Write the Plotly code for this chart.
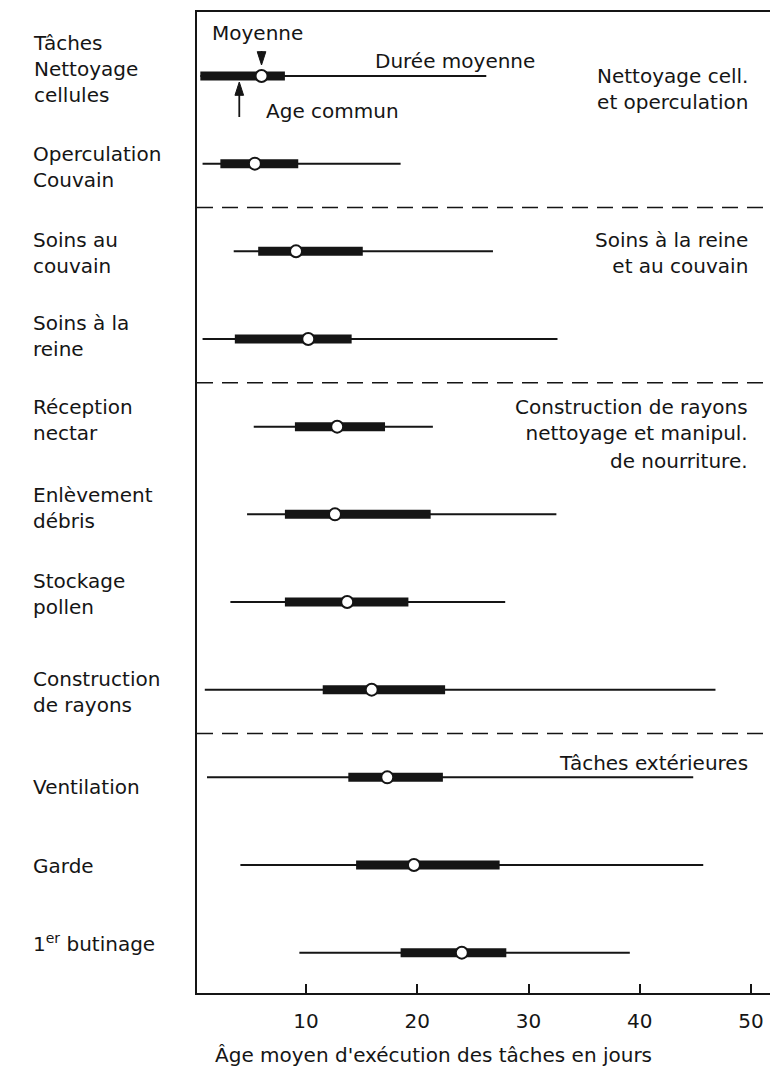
import plotly.graph_objects as go

# ---- data (ages in days) ----
taches = [
    "Tâches<br>Nettoyage<br>cellules",
    "Operculation<br>Couvain",
    "Soins au<br>couvain",
    "Soins à la<br>reine",
    "Réception<br>nectar",
    "Enlèvement<br>débris",
    "Stockage<br>pollen",
    "Construction<br>de rayons",
    "Ventilation",
    "Garde",
    "1<sup>er</sup> butinage",
]
age_min = [0.5, 0.7, 3.5, 0.7, 5.3, 4.7, 3.2, 0.9, 1.1, 4.1, 9.4]
age_q1 = [0.5, 2.3, 5.7, 3.6, 9.0, 8.1, 8.1, 11.5, 13.8, 14.5, 18.5]
age_moyen = [6.0, 5.4, 9.1, 10.2, 12.8, 12.6, 13.7, 15.9, 17.3, 19.7, 24.0]
age_q3 = [8.1, 9.3, 15.1, 14.1, 17.1, 21.2, 19.2, 22.5, 22.3, 27.4, 28.0]
age_max = [26.2, 18.5, 26.8, 32.6, 21.4, 32.5, 27.9, 46.8, 44.8, 45.7, 39.1]
age_commun_exemple = 4.0

groupes_debut = [0, 2, 4, 8]
groupes = [
    "Nettoyage cell.<br>et operculation",
    "Soins à la reine<br>et au couvain",
    "Construction de rayons<br>nettoyage et manipul.",
    "Tâches extérieures",
]
tick_vals = [10, 20, 30, 40, 50]
tick_text = ["10", "20", "30", "40", "50"]
titre_x = "Âge moyen d'exécution des tâches en jours"

# ---- style / layout ----
INK = "#151515"
FONT = "DejaVu Sans"
FS = 20
n = len(taches)
rows = list(range(n))
Y_RANGE = [10.46, -0.73]
PLOT_H = 1074 - 12 - 81
PX_PER_ROW = PLOT_H / (Y_RANGE[0] - Y_RANGE[1])

def seg(a, b):
    xs, ys = [], []
    for i in rows:
        xs += [a[i], b[i], None]
        ys += [i, i, None]
    return xs, ys

fig = go.Figure()
tx, ty = seg(age_min, age_max)
fig.add_trace(go.Scatter(x=tx, y=ty, mode="lines", line=dict(color=INK, width=2),
                         hoverinfo="skip", showlegend=False))
kx, ky = seg(age_q1, age_q3)
fig.add_trace(go.Scatter(x=kx, y=ky, mode="lines", line=dict(color=INK, width=9),
                         hoverinfo="skip", showlegend=False))
fig.add_trace(go.Scatter(x=age_moyen, y=rows, mode="markers",
                         marker=dict(size=12, color="white", line=dict(color=INK, width=2)),
                         showlegend=False))

# explanatory arrows on the first row (offsets in pixels from the row line)
def arrow(xv, px_from, px_to):
    fig.add_trace(go.Scatter(
        x=[xv, xv], y=[px_from / PX_PER_ROW, px_to / PX_PER_ROW], mode="lines+markers",
        line=dict(color=INK, width=1.8),
        marker=dict(symbol="arrow", angleref="previous", size=[0, 14], color=INK,
                    opacity=1, line=dict(color=INK, width=1)),
        hoverinfo="skip", showlegend=False))

arrow(age_moyen[0], -25, -11)          # "Moyenne"
arrow(age_commun_exemple, 41, 6)       # "Age commun"

# separators between groups
for g in groupes_debut[1:]:
    fig.add_shape(type="line", xref="paper", x0=0, x1=1, yref="y", y0=g - 0.5, y1=g - 0.5,
                  line=dict(color=INK, width=1.5, dash="16px,9px"))

annotations = []
txt = dict(family=FONT, size=FS, color=INK)
# task labels on the left
label_shift = [7.5, -3, -2, 3.5, 7, 6, 8, -2.5, -10, -1, 10]
for i, t in enumerate(taches):
    annotations.append(dict(text=t, xref="paper", x=-0.29, xanchor="left", align="left",
                            yref="y", y=i, yanchor="middle", yshift=label_shift[i],
                            showarrow=False, font=txt))

# group labels on the right
group_y = [0.922, 0.7543, 0.5846, 0.2345]
for g, yv in zip(groupes, group_y):
    annotations.append(dict(text=g, xref="paper", x=0.965, xanchor="right", align="right",
                            yref="paper", y=yv, yanchor="middle", showarrow=False, font=txt))
annotations.append(dict(text="de nourriture.", xref="paper", x=0.965, xanchor="right",
                        yref="paper", y=0.5423, yanchor="middle", showarrow=False, font=txt))

annotations.append(dict(text="Moyenne", xref="x", x=age_moyen[0], xshift=-4, xanchor="center",
                        yref="y", y=0, yshift=43, yanchor="middle", showarrow=False, font=txt))
annotations.append(dict(text="Durée moyenne", xref="paper", x=0.4503, xanchor="center",
                        yref="paper", y=0.950, yanchor="middle", showarrow=False, font=txt))
annotations.append(dict(text="Age commun", xref="paper", x=0.2373, xanchor="center",
                        yref="paper", y=0.899, yanchor="middle", showarrow=False, font=txt))
# x axis title
annotations.append(dict(text=titre_x, xref="paper", x=0.412, xanchor="center",
                        yref="paper", y=-0.0632, yanchor="middle", showarrow=False, font=txt))

fig.update_layout(
    width=770, height=1074,
    margin=dict(l=197, r=0, t=12, b=81),
    paper_bgcolor="white", plot_bgcolor="white",
    annotations=annotations,
    font=txt,
    xaxis=dict(range=[0.2, 51.7], tickvals=tick_vals, ticktext=tick_text,
               ticks="inside", ticklen=9, tickwidth=1.5, tickcolor=INK,
               showline=True, linewidth=2, linecolor=INK, mirror=True,
               showgrid=False, zeroline=False, ticklabelstandoff=9,
               tickfont=txt),
    yaxis=dict(range=Y_RANGE, showticklabels=False, ticks="",
               showline=True, linewidth=2, linecolor=INK, mirror=False,
               showgrid=False, zeroline=False),
)

fig.write_html("out.html", config={"displayModeBar": False},
               post_script="document.body.style.margin='0';document.body.style.overflow='hidden';")
